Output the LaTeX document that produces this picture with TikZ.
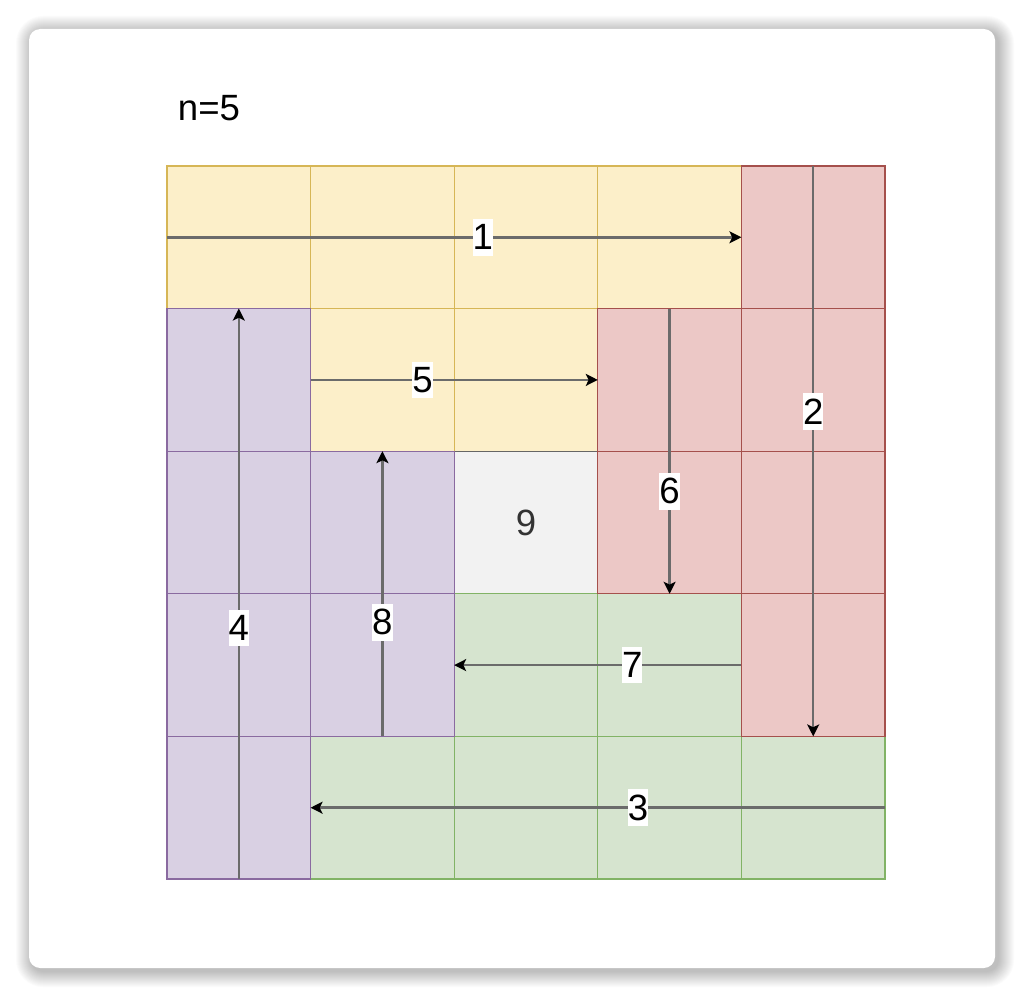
\documentclass[tikz,border=0pt]{standalone}
\usepackage{fontspec}
\setmainfont{Liberation Sans}
\usetikzlibrary{positioning, arrows.meta}
\definecolor{cellyellow}{HTML}{FCEFC9}
\definecolor{lineyellow}{HTML}{D6B656}
\definecolor{cellred}{HTML}{ECC8C6}
\definecolor{linered}{HTML}{A5504C}
\definecolor{cellpurple}{HTML}{D9D0E3}
\definecolor{linepurple}{HTML}{8A6AA0}
\definecolor{cellgreen}{HTML}{D6E4CF}
\definecolor{linegreen}{HTML}{82B366}
\definecolor{cellgray}{HTML}{F2F2F2}
\definecolor{linegray}{HTML}{666666}

\begin{document}
\begin{tikzpicture}[x=0.025cm, y=-0.025cm,
    cell/.style={minimum width=3.59cm, minimum height=3.565cm, inner sep=0pt,
                 outer sep=0pt, line width=0.8pt},
    yel/.style={cell, fill=cellyellow, draw=lineyellow},
    red/.style={cell, fill=cellred, draw=linered},
    pur/.style={cell, fill=cellpurple, draw=linepurple},
    grn/.style={cell, fill=cellgreen, draw=linegreen},
    gry/.style={cell, fill=cellgray, draw=linegray},
    walk/.style={draw=black!58, line width=1.8pt,
                 -{Stealth[length=8.5pt, width=8.5pt, inset=2pt, black]}},
    steplabel/.style={fill=white, text=black, font=\fontsize{26}{28}\selectfont,
                      inner xsep=0pt, inner ysep=4pt}]
    \useasboundingbox (0,0) rectangle (1024,998);
    \fill[white] (0,0) rectangle (1024,998);
    % card with soft shadow
    \foreach \i in {1,...,16}
        \fill[black, opacity=0.016, rounded corners={8pt+0.7*\i pt}]
            ({32-\i}, {32-\i}) rectangle ({998+\i}, {971+\i});
    \fill[white, rounded corners=8pt] (29,29) rectangle (995,968);
    \node[anchor=west, font=\fontsize{26}{28}\selectfont] (title) at (173,108) {n=5};

    % grid, row/column/style
    \foreach \r/\c/\k in {0/0/yel, 0/1/yel, 0/2/yel, 0/3/yel,
                          1/1/yel, 1/2/yel, 2/2/gry,
                          3/2/grn, 3/3/grn, 4/1/grn, 4/2/grn, 4/3/grn, 4/4/grn,
                          1/0/pur, 2/0/pur, 3/0/pur, 4/0/pur, 2/1/pur, 3/1/pur,
                          0/4/red, 1/3/red, 1/4/red, 2/3/red, 2/4/red, 3/4/red}
        \node[\k] (c\r\c) at ({238.8+143.6*\c}, {237.3+142.6*\r}) {};

    \node[text=black!80, font=\fontsize{26}{28}\selectfont] (nine) at (c22) {9};

    % spiral
    \draw[walk] (c00.west) -- node[steplabel, pos=0.55] {1} (c04.west);
    \draw[walk] (c04.north) -- node[steplabel, pos=0.43] {2} (c44.north);
    \draw[walk] (c44.east) -- node[steplabel, pos=0.43] {3} (c41.west);
    \draw[walk] (c40.south) -- node[steplabel, pos=0.44] {4} (c10.north);
    \draw[walk] (c11.west) -- node[steplabel, pos=0.39] {5} (c13.west);
    \draw[walk] (c13.north) -- node[steplabel, pos=0.64] {6} (c33.north);
    \draw[walk] (c34.west) -- node[steplabel, pos=0.38] {7} (c32.west);
    \draw[walk] (c31.south) -- node[steplabel, pos=0.40] {8} (c21.north);
\end{tikzpicture}
\end{document}
